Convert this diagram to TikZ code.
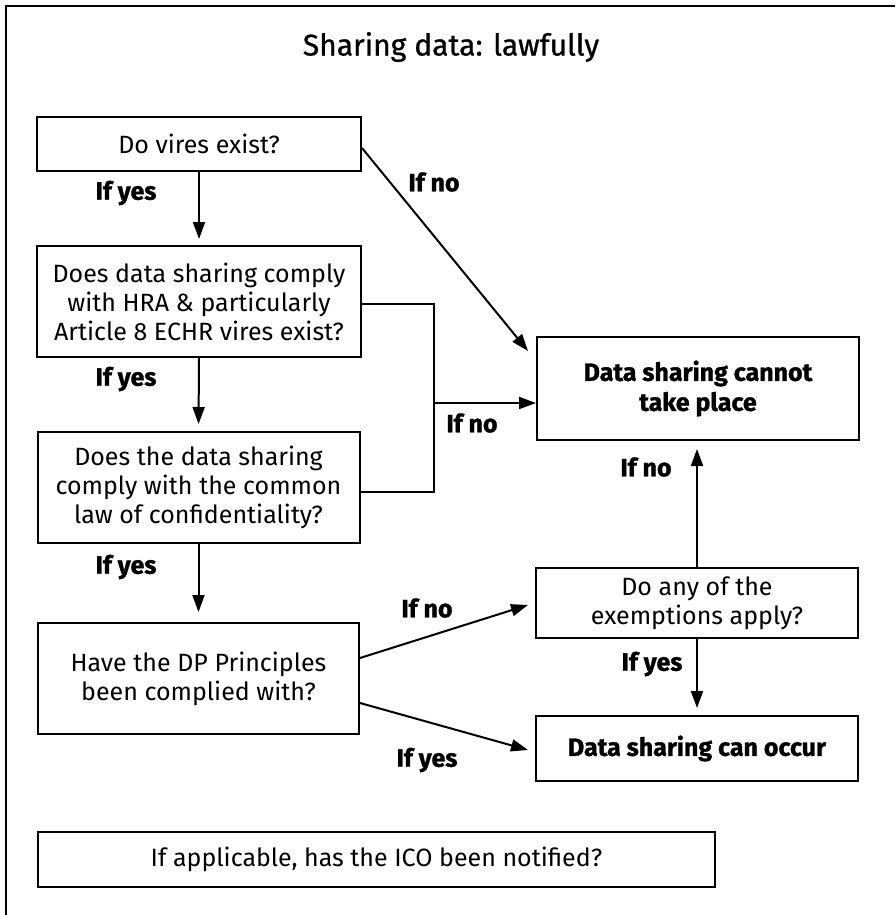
\documentclass[tikz,border=0pt]{standalone}
\usepackage{fontspec}
\setmainfont{Fira Sans}[BoldFeatures={FakeBold=1.2}]
\newfontfamily\titlefont{Fira Sans}[FakeBold=0.9]
\usetikzlibrary{calc,arrows.meta}
\begin{document}
\begin{tikzpicture}[x=1pt,y=-1pt,
  box/.style={draw, line width=2pt, inner sep=0pt, align=center, anchor=center,
    font=\fontsize{25}{29}\selectfont},
  boldbox/.style={box, font=\fontsize{25}{30}\selectfont\bfseries},
  lab/.style={inner sep=0pt, anchor=center, font=\fontsize{25}{28}\selectfont\bfseries},
  arr/.style={line width=2pt, -{Triangle[length=17pt,width=12pt]}},
  conn/.style={line width=2pt}]
\useasboundingbox (0,0) rectangle (895,915);
\draw[line width=2.5pt] (6,915) -- (6,6) -- (895,6);
\node[inner sep=0pt, font=\titlefont\fontsize{30}{34}\selectfont] (title) at (451,47) {Sharing data: lawfully};

\node[box, minimum width=324pt, minimum height=54pt] (A) at (199,144) {Do vires exist?};
\node[box, minimum width=324pt, minimum height=111pt] (B) at (199,301.5) {Does data sharing comply\\with HRA \& particularly\\Article 8 ECHR vires exist?};
\node[box, minimum width=322pt, minimum height=111pt] (C) at (198.5,487.5) {Does the data sharing\\comply with the common\\law of confidentiality?};
\node[box, minimum width=321pt, minimum height=111pt] (G) at (198.5,678.5) {Have the DP Principles\\been complied with?};
\node[boldbox, minimum width=322pt, minimum height=103pt] (D) at (698,388.5) {Data sharing cannot\\take place};
\node[box, minimum width=322pt, minimum height=70pt] (E) at (697,603) {Do any of the\\exemptions apply?};
\node[boldbox, minimum width=322pt, minimum height=65pt] (F) at (697,748.5) {Data sharing can occur};
\node[box, minimum width=677pt, minimum height=55pt] (H) at (376.5,859.5) {If applicable, has the ICO been notified?};

% connectors
\draw[arr, shorten >=6pt] (A.south) -- (B.north);
\draw[arr, shorten >=7pt] (B.south) -- (C.north);
\draw[arr, shorten >=10pt] (C.south) -- (G.north);
\draw[arr] ([yshift=-4pt]A.east) -- ([xshift=-8pt,yshift=-15pt]D.north west);
\coordinate (jn) at (434,403);
\draw[conn] ([yshift=-2.5pt]B.east) -| (jn) |- ([yshift=-4.5pt]C.east);
\draw[arr] (jn) -- (jn -| D.west);
\draw[arr, shorten >=8pt] (E.north) -- (E.north |- D.south);
\draw[arr, shorten >=7pt] (E.south) -- (F.north);
\draw[arr] ([yshift=20.5pt]G.east) -- ([xshift=-7pt,yshift=-2pt]E.west);
\draw[arr] ([yshift=-24.5pt]G.east) -- ([xshift=-7pt,yshift=-1.5pt]F.west);

% labels
\node[lab] (l1) at (126,193) {If yes};
\node[lab] (l2) at (126,379) {If yes};
\node[lab] (l3) at (126,567) {If yes};
\node[lab] (l4) at (427,760) {If yes};
\node[lab] (l5) at (652,664) {If yes};
\node[lab] (n1) at (434,182) {If no};
\node[lab] (n2) at (472,423) {If no};
\node[lab] (n3) at (427,608) {If no};
\node[lab] (n4) at (646,467) {If no};
\end{tikzpicture}
\end{document}
